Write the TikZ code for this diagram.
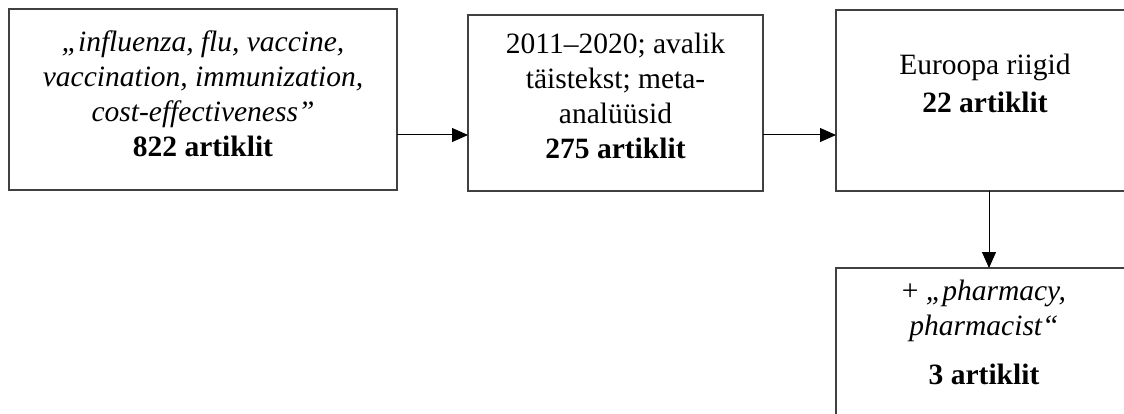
\documentclass[tikz,border=0pt]{standalone}
\usepackage{fontspec}
\setmainfont{Liberation Serif}
\usetikzlibrary{arrows.meta}
\tikzset{
  box/.style={draw=black!75, line width=1.3pt, rectangle, inner sep=0pt, outer sep=0pt, anchor=north west},
  txt/.style={anchor=north, align=center, inner sep=0pt, font=\fontsize{29.5}{35}\selectfont},
  arr/.style={line width=1pt, -{Triangle[length=16pt,width=14pt]}},
}
\newcommand{\fstrut}{\rule{0pt}{21pt}}
\begin{document}
\begin{tikzpicture}[x=1pt,y=1pt]
\useasboundingbox (0,0) rectangle (1124,-414);
\clip (0,0) rectangle (1124,-414);
% boxes
\node[box, minimum width=388pt, minimum height=181pt] (b1) at (9,-9) {};
\node[box, minimum width=295pt, minimum height=176pt] (b2) at (468,-15) {};
\node[box, minimum width=298pt, minimum height=181pt] (b3) at (836,-10) {};
\node[box, minimum width=298pt, minimum height=170pt] (b4) at (836,-268) {};
% texts
\node[txt] (t1) at (203,-30) {\fstrut\itshape „influenza, flu, vaccine,\\ \itshape vaccination, immunization,\\ \itshape cost-effectiveness”\\ \textbf{822 artiklit}};
\node[txt] (t2) at (615.5,-32) {\fstrut 2011–2020; avalik\\ täistekst; meta-\\ analüüsid\\ \textbf{275 artiklit}};
\node[txt, font=\fontsize{29.5}{38}\selectfont] (t3) at (985,-53) {\fstrut Euroopa riigid\\ \textbf{22 artiklit}};
\node[txt] (t4) at (984,-279) {\fstrut + \itshape „pharmacy,\\ \itshape pharmacist“\\[14pt] \textbf{3 artiklit}};
% connectors
\coordinate (h) at (0,-135);
\coordinate (v) at (989,0);
\draw[arr] (b1.east |- h) -- (b2.west |- h);
\draw[arr] (b2.east |- h) -- (b3.west |- h);
\draw[arr] (b3.south -| v) -- (b4.north -| v);
\end{tikzpicture}
\end{document}
